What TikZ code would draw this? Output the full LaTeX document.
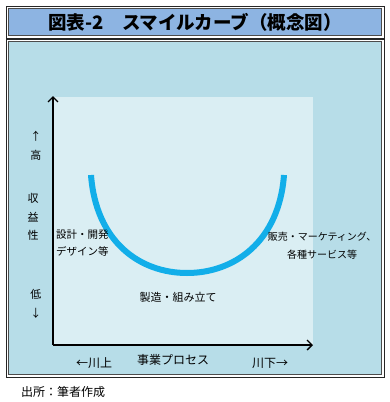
\documentclass[tikz,border=0pt]{standalone}
\usepackage{fontspec}
\setmainfont{Noto Sans CJK JP}
\usetikzlibrary{arrows.meta, positioning}
\definecolor{titleblue}{HTML}{8DB4E2}
\definecolor{panelblue}{HTML}{B7DDE8}
\definecolor{plotblue}{HTML}{DAEEF3}
\definecolor{smileblue}{HTML}{12AEE9}

\begin{document}
\begin{tikzpicture}[x=1pt, y=-1pt]
\tikzset{
  outerframe/.style={draw=black!85, line width=0.8pt},
  innerframe/.style={draw=black!70, line width=0.7pt},
  axis/.style={line width=1.4pt, -{Straight Barb[length=5pt, width=10pt, line width=1.4pt]}},
  smile/.style={draw=smileblue, line width=6pt},
  label/.style={font=\fontsize{11}{13}\selectfont, inner sep=0pt, text=black},
  vlabel/.style={label, align=center, font=\fontsize{11}{18.5}\selectfont}
}
\useasboundingbox (0,0) rectangle (390,402);

% frames
\draw[outerframe, fill=white] (6,6) rectangle (384,38);
\draw[innerframe, fill=titleblue] (8.5,8.5) rectangle (381.5,35.5);
\draw[outerframe, fill=white] (6,39) rectangle (384,377);
\draw[innerframe, fill=panelblue] (8.5,41.5) rectangle (381.5,374.5);
\fill[plotblue] (53,97) rectangle (313,345);
\node[inner sep=0pt, font=\fontsize{18.5}{20}\selectfont\bfseries] (title) at (195,22) {図表-2　スマイルカーブ（概念図）};

% axes
\coordinate (origin) at (53,345);
\coordinate (ytop) at (53,96);
\coordinate (xend) at (313,345);
\draw[axis] (origin) -- (ytop);
\draw[axis] (origin) -- (xend);

% curve
\coordinate (cl) at (91,175);
\coordinate (cb) at (187,273);
\coordinate (cr) at (284,175);
\draw[smile] (cl) .. controls (96,242) and (140,273) .. (cb)
  .. controls (234,273) and (279,242) .. (cr);

% y labels
\node[vlabel] (high) at (36,146) {↑\\高};
\node[vlabel] (profit) at (33,217) {収\\益\\性};
\node[vlabel] (low) at (36,304) {低\\↓};

% stage labels
\node[label, align=left, anchor=west, font=\fontsize{10.5}{17}\selectfont] (design) at (56,243) {設計・開発\\デザイン等};
\node[label, align=center, font=\fontsize{10}{18}\selectfont] (sales) at (322,246) {販売・マーケティング、\\各種サービス等};
\node[label] (make) at (178,297) {製造・組み立て};

% x labels
\node[label, font=\fontsize{12}{14}\selectfont] (up) at (94,363) {←川上};
\node[label, font=\fontsize{12}{14}\selectfont] (process) at (173,360) {事業プロセス};
\node[label, font=\fontsize{12}{14}\selectfont] (down) at (270,363) {川下→};

\node[label, anchor=west, font=\fontsize{12}{14}\selectfont] (source) at (21,392) {出所：筆者作成};
\end{tikzpicture}
\end{document}
